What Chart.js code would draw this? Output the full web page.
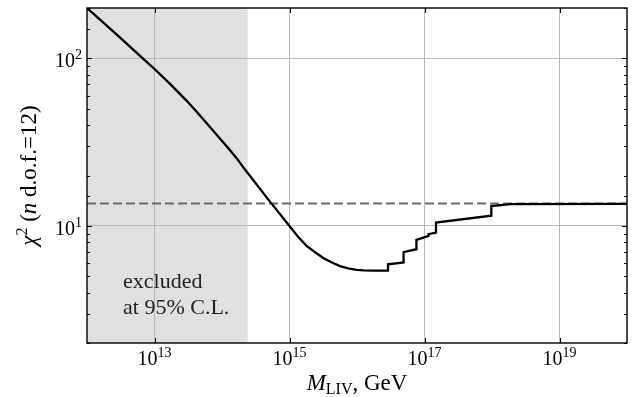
<!DOCTYPE html>
<html><head><meta charset="utf-8">
<script src="https://cdn.jsdelivr.net/npm/chart.js@4.4.1/dist/chart.umd.min.js"></script>
<style>html,body{margin:0;padding:0;background:#fff;} #wrap{width:644px;height:397px;}</style>
</head><body><div id="wrap"><canvas id="c" width="644" height="397"></canvas></div>
<script>
// ---- data ----
const massGeV = [1e12, 2.98e12, 6.76e12, 1e13, 1.7e13, 2.93e13, 4.12e13, 5.8e13, 1.27e14, 1.67e14, 2.19e14, 4.64e14, 1e15,
  1.32e15, 1.79e15, 2.34e15, 3.16e15, 4.17e15, 5.6e15, 7.41e15, 9.9e15, 1.26e16, 1.74e16, 2.88e16, 2.88e16, 4.9e16, 4.9e16,
  7.59e16, 7.59e16, 1.15e17, 1.15e17, 1.48e17, 1.48e17, 9.77e17, 9.77e17, 1.9e18, 1e20];
const chi2 = [200, 135, 99.6, 86.5, 70.5, 56.4, 48.5, 41.5, 28.8, 25.2, 21.7, 14.7, 10.0,
  8.68, 7.61, 7.01, 6.43, 6.07, 5.76, 5.58, 5.47, 5.43, 5.41, 5.41, 5.9, 6.05, 6.97,
  7.26, 8.26, 8.71, 8.92, 9.12, 10.47, 11.5, 13.15, 13.5, 13.55];
const thresholdChi2 = 13.6;
const excludedBelowGeV = 2.4e14;
const xRange = [1e12, 1e20];
const yRange = [2, 200];
const xTickValues = [1e13, 1e15, 1e17, 1e19];
const yTickLabelValues = [10, 100];
const annotationLines = ['excluded', 'at 95% C.L.'];

const SERIF = '"Liberation Serif", "Times New Roman", serif';
function isPow10(v){ const l = Math.log10(v); return Math.abs(l - Math.round(l)) < 1e-9; }

function drawSegments(ctx, segs, cx, baseline, align){
  let total = 0;
  segs.forEach(s=>{ ctx.font = s.f; s.w = ctx.measureText(s.t).width; total += s.w; });
  let x = align === 'right' ? cx - total : cx - total/2;
  ctx.textAlign = 'left'; ctx.textBaseline = 'alphabetic';
  segs.forEach(s=>{ ctx.font = s.f; ctx.fillText(s.t, x, baseline + (s.dy||0)); x += s.w; });
}
function powSegs(v){
  const e = String(Math.round(Math.log10(v)));
  return [{t:'10', f:'20px ' + SERIF}, {t:e, f:'14px ' + SERIF, dy:-8}];
}

const decor = {
  id: 'decor',
  beforeDraw(chart){
    const {ctx, chartArea:a, scales:{x}} = chart;
    const x1 = x.getPixelForValue(excludedBelowGeV);
    ctx.save();
    ctx.fillStyle = '#e0e0e0';
    ctx.fillRect(a.left, a.top, x1 - a.left, a.bottom - a.top);
    ctx.restore();
  },
  afterDraw(chart){
    const {ctx, chartArea:a, scales:{x, y}} = chart;
    ctx.save();
    ctx.strokeStyle = '#000'; ctx.lineWidth = 1;
    // inward tick marks
    ctx.beginPath();
    x.ticks.forEach(t=>{
      const px = Math.round(x.getPixelForValue(t.value)) + 0.5;
      ctx.moveTo(px, a.bottom); ctx.lineTo(px, a.bottom - 5);
      ctx.moveTo(px, a.top); ctx.lineTo(px, a.top + 5);
    });
    y.ticks.forEach(t=>{
      const py = Math.round(y.getPixelForValue(t.value)) + 0.5;
      const len = isPow10(t.value) ? 5 : 3;
      ctx.moveTo(a.left, py); ctx.lineTo(a.left + len, py);
      ctx.moveTo(a.right, py); ctx.lineTo(a.right - len, py);
    });
    ctx.stroke();
    // frame
    ctx.lineWidth = 1.4;
    ctx.strokeRect(a.left, a.top, a.right - a.left, a.bottom - a.top);
    // tick labels (10 with raised exponent)
    ctx.fillStyle = '#000';
    x.ticks.forEach(t=>{
      drawSegments(ctx, powSegs(t.value), x.getPixelForValue(t.value), a.bottom + 22);
    });
    y.ticks.forEach(t=>{
      if (yTickLabelValues.some(v=>Math.abs(v - t.value) < 1e-9))
        drawSegments(ctx, powSegs(t.value), a.left - 5, y.getPixelForValue(t.value) + 9, 'right');
    });
    // annotation text
    ctx.fillStyle = '#222';
    ctx.font = '22px ' + SERIF;
    ctx.textAlign = 'left'; ctx.textBaseline = 'alphabetic';
    ctx.fillText(annotationLines[0], 123, 288);
    ctx.fillText(annotationLines[1], 123, 314);
    // x title
    ctx.fillStyle = '#000';
    drawSegments(ctx, [
      {t:'M', f:'italic 23px ' + SERIF},
      {t:'LIV', f:'16px ' + SERIF, dy:4},
      {t:', GeV', f:'23px ' + SERIF}
    ], (a.left + a.right)/2, 390);
    // y title
    ctx.translate(36, (a.top + a.bottom)/2);
    ctx.rotate(-Math.PI/2);
    drawSegments(ctx, [
      {t:'χ', f:'italic 23px ' + SERIF},
      {t:'2', f:'16px ' + SERIF, dy:-9},
      {t:' (', f:'23px ' + SERIF},
      {t:'n', f:'italic 23px ' + SERIF},
      {t:' d.o.f.=12)', f:'23px ' + SERIF}
    ], 0, 0);
    ctx.restore();
  }
};

new Chart(document.getElementById('c'), {
  type: 'line',
  data: {
    datasets: [
      { label: 'chi2', data: massGeV.map((m,i)=>({x:m, y:chi2[i]})),
        borderColor:'#000', borderWidth:2.3, pointRadius:0, tension:0, fill:false, order:1 },
      { label: 'threshold', data: [{x:xRange[0], y:thresholdChi2}, {x:xRange[1], y:thresholdChi2}],
        borderColor:'#6a6a6a', borderWidth:2, borderDash:[9,4], pointRadius:0, fill:false, order:2 }
    ]
  },
  options: {
    responsive:false, animation:false, devicePixelRatio:1,
    layout:{ padding:{ top:8, right:17, left:0, bottom:0 } },
    plugins:{ legend:{display:false}, tooltip:{enabled:false} },
    scales:{
      x:{
        type:'logarithmic', min:xRange[0], max:xRange[1],
        afterBuildTicks:(s)=>{ s.ticks = xTickValues.map(v=>({value:v, major:true})); },
        afterFit:(s)=>{ s.height = 54; s.paddingLeft = 0; s.paddingRight = 0; },
        grid:{ color:'#b8b8b8', lineWidth:1, drawTicks:false },
        border:{ display:false },
        ticks:{ display:false }
      },
      y:{
        type:'logarithmic', min:yRange[0], max:yRange[1],
        afterFit:(s)=>{ s.width = 87; s.paddingTop = 0; s.paddingBottom = 0; },
        grid:{ color:(c)=> (c.tick && isPow10(c.tick.value)) ? '#b8b8b8' : 'rgba(0,0,0,0)', lineWidth:1, drawTicks:false },
        border:{ display:false },
        ticks:{ display:false, autoSkip:false }
      }
    }
  },
  plugins:[decor]
});
</script></body></html>
